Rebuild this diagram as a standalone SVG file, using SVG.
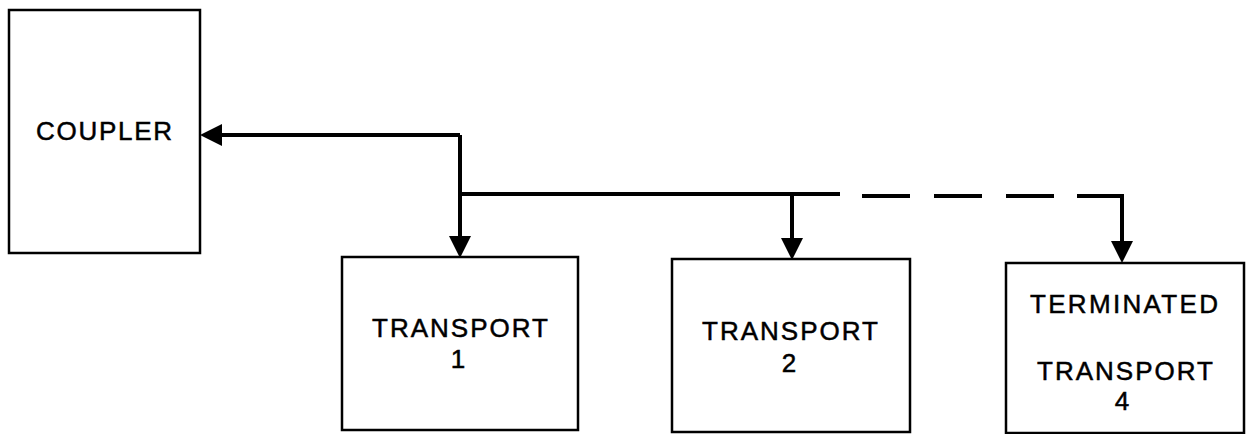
<svg xmlns="http://www.w3.org/2000/svg" width="1246" height="434" viewBox="0 0 1246 434">
<style>
.box{fill:#fff;stroke:#000;stroke-width:2.5}
.lbl{font-family:"Liberation Sans",Arial,sans-serif;font-size:26px;fill:#000;stroke:#000;stroke-width:0.5}
.num{font-family:"Liberation Sans",Arial,sans-serif;font-size:26px;fill:#000;stroke:#000;stroke-width:0.5;text-anchor:middle}
.wire{fill:none;stroke:#000;stroke-width:4}
</style>
<defs>
<marker id="ah" markerUnits="userSpaceOnUse" markerWidth="22" markerHeight="22" refX="10" refY="10" orient="auto" viewBox="0 0 20 20">
<path d="M0,0 L20,10 L0,20 z" fill="#000"/>
</marker>
</defs>
<rect width="1246" height="434" fill="#fff"/>
<g id="coupler">
<rect class="box" x="9" y="10" width="191" height="243"/>
<text class="lbl" x="36" y="140" textLength="136" lengthAdjust="spacing">COUPLER</text>
</g>
<g id="transport1">
<rect class="box" x="342" y="257" width="236" height="173"/>
<text class="lbl" x="372" y="337" textLength="176" lengthAdjust="spacing">TRANSPORT</text>
<text class="num" x="458" y="368">1</text>
</g>
<g id="transport2">
<rect class="box" x="672" y="259" width="238" height="173"/>
<text class="lbl" x="702" y="340" textLength="176" lengthAdjust="spacing">TRANSPORT</text>
<text class="num" x="789" y="372">2</text>
</g>
<g id="transport4">
<rect class="box" x="1006" y="263" width="238" height="170"/>
<text class="lbl" x="1030" y="313" textLength="188" lengthAdjust="spacing">TERMINATED</text>
<text class="lbl" x="1037" y="380" textLength="176" lengthAdjust="spacing">TRANSPORT</text>
<text class="num" x="1122" y="410">4</text>
</g>
<g id="connectors">
<path class="wire" d="M460,135 L211,135" marker-end="url(#ah)"/>
<path class="wire" d="M460,135 L460,247" marker-end="url(#ah)"/>
<path class="wire" d="M460,194 L840,194"/>
<path class="wire" d="M792,194 L792,249" marker-end="url(#ah)"/>
<path class="wire" d="M862,196 L1054,196" stroke-dasharray="48 24"/>
<path class="wire" d="M1077,196 L1122,196 L1122,252" marker-end="url(#ah)"/>
</g>
</svg>
